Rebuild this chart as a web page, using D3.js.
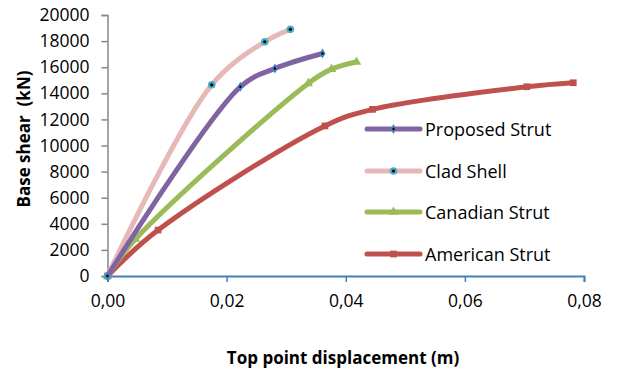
<!DOCTYPE html>
<meta charset="utf-8">
<script src="https://d3js.org/d3.v7.min.js"></script>
<style>
  body { margin: 0; background: #fff; }
  text { font-family: "Open Sans", "Noto Sans", sans-serif; fill: #000; }
</style>
<div id="chart"></div>
<script>
// values
var seriesNames = ["Proposed Strut", "Clad Shell", "Canadian Strut", "American Strut"];
var proposedX = [0, 0.0223, 0.0281, 0.0361];
var proposedY = [0, 14500, 15900, 17050];
var cladX = [0, 0.0175, 0.0264, 0.0307];
var cladY = [0, 14650, 17950, 18900];
var canadianX = [0, 0.0047, 0.0337, 0.0376, 0.0418];
var canadianY = [0, 2830, 14760, 15850, 16400];
var americanX = [0, 0.0085, 0.0365, 0.0445, 0.0704, 0.0782];
var americanY = [0, 3520, 11500, 12770, 14500, 14810];
var xTicks = [0, 0.02, 0.04, 0.06, 0.08];
var yTicks = [0, 2000, 4000, 6000, 8000, 10000, 12000, 14000, 16000, 18000, 20000];

var W = 632, H = 374;
var margin = {top: 15, right: 48, bottom: 98, left: 107.5};
var width = W - margin.left - margin.right,
    height = H - margin.top - margin.bottom;

var svg = d3.select("#chart").append("svg")
    .attr("width", W).attr("height", H);
var g = svg.append("g")
    .attr("transform", "translate(" + margin.left + "," + margin.top + ")");

var x = d3.scaleLinear().domain([0, 0.08]).range([0, width]);
var y = d3.scaleLinear().domain([0, 20000]).range([height, 0]);

// y axis (grey)
var yAxis = g.append("g")
  .call(d3.axisLeft(y).tickValues(yTicks).tickSize(6).tickPadding(12).tickFormat(d3.format("d")));
yAxis.select(".domain").attr("stroke", "#868686").attr("stroke-width", 1.5);
yAxis.selectAll(".tick line").attr("stroke", "#868686").attr("stroke-width", 1.5);
yAxis.selectAll("text").style("font-size", "17.5px").attr("fill", "#000");

// x axis (blue)
var xAxis = g.append("g")
  .attr("transform", "translate(0," + height + ")")
  .call(d3.axisBottom(x).tickValues(xTicks).tickSize(6).tickSizeOuter(6).tickPadding(13)
    .tickFormat(function(d){ return d3.format(".2f")(d).replace(".", ","); }));
xAxis.select(".domain").attr("stroke", "#4A7EBB").attr("stroke-width", 2);
xAxis.selectAll(".tick line").attr("stroke", "#4A7EBB").attr("stroke-width", 1.5);
xAxis.selectAll("text").style("font-size", "17.5px").attr("fill", "#000");

// axis titles
svg.append("text")
  .attr("x", 343).attr("y", 359)
  .attr("text-anchor", "middle").attr("dominant-baseline", "middle")
  .style("font-size", "17px").style("font-weight", "bold")
  .text("Top point displacement (m)");
svg.append("text")
  .attr("transform", "translate(25,139) rotate(-90)")
  .attr("text-anchor", "middle").attr("dominant-baseline", "middle")
  .style("font-size", "17px").style("font-weight", "bold")
  .style("white-space", "pre").attr("xml:space", "preserve")
  .text("Base shear  (kN)");

var series = [
  {name: seriesNames[0], xs: proposedX, ys: proposedY, color: "#8064A2", marker: "diamond"},
  {name: seriesNames[1], xs: cladX, ys: cladY, color: "#E6B9B8", marker: "circle"},
  {name: seriesNames[2], xs: canadianX, ys: canadianY, color: "#9BBB59", marker: "triangle"},
  {name: seriesNames[3], xs: americanX, ys: americanY, color: "#C0504D", marker: "square"}
];

var line = d3.line()
  .x(function(d){ return x(d[0]); })
  .y(function(d){ return y(d[1]); })
  .curve(d3.curveCatmullRom.alpha(0.5));

function drawMarker(sel, s, px, py) {
  if (s.marker === "diamond") {
    sel.append("path").attr("transform", "translate(" + px + "," + py + ")")
      .attr("d", d3.symbol().type(d3.symbolDiamond).size(30)()).attr("fill", "#4A7EBB");
    sel.append("circle").attr("cx", px).attr("cy", py).attr("r", 1.2).attr("fill", "#000");
  } else if (s.marker === "circle") {
    sel.append("circle").attr("cx", px).attr("cy", py).attr("r", 3.8).attr("fill", "#4BACC6");
    sel.append("circle").attr("cx", px).attr("cy", py).attr("r", 1.6).attr("fill", "#000");
  } else if (s.marker === "triangle") {
    sel.append("path").attr("transform", "translate(" + px + "," + py + ")")
      .attr("d", d3.symbol().type(d3.symbolTriangle).size(40)()).attr("fill", s.color);
  } else {
    sel.append("path").attr("transform", "translate(" + px + "," + py + ")")
      .attr("d", d3.symbol().type(d3.symbolSquare).size(45)()).attr("fill", s.color);
  }
}

// draw in reverse so Proposed ends up on top like Excel
series.slice().reverse().forEach(function(s) {
  var pts = s.xs.map(function(v, i){ return [v, s.ys[i]]; });
  g.append("path").datum(pts)
    .attr("d", line)
    .attr("fill", "none")
    .attr("stroke", s.color)
    .attr("stroke-width", 5)
    .attr("stroke-linejoin", "round");
  var mg = g.append("g");
  pts.forEach(function(p){ drawMarker(mg, s, x(p[0]), y(p[1])); });
});

// legend
var legendY = [129, 171, 212, 254];
series.forEach(function(s, i) {
  var lg = svg.append("g");
  lg.append("line")
    .attr("x1", 367).attr("x2", 420)
    .attr("y1", legendY[i]).attr("y2", legendY[i])
    .attr("stroke", s.color).attr("stroke-width", 5).attr("stroke-linecap", "round");
  drawMarker(lg, s, 393.5, legendY[i]);
  lg.append("text")
    .attr("x", 425).attr("y", legendY[i])
    .attr("dominant-baseline", "central")
    .style("font-size", "18px")
    .text(s.name);
});
</script>
